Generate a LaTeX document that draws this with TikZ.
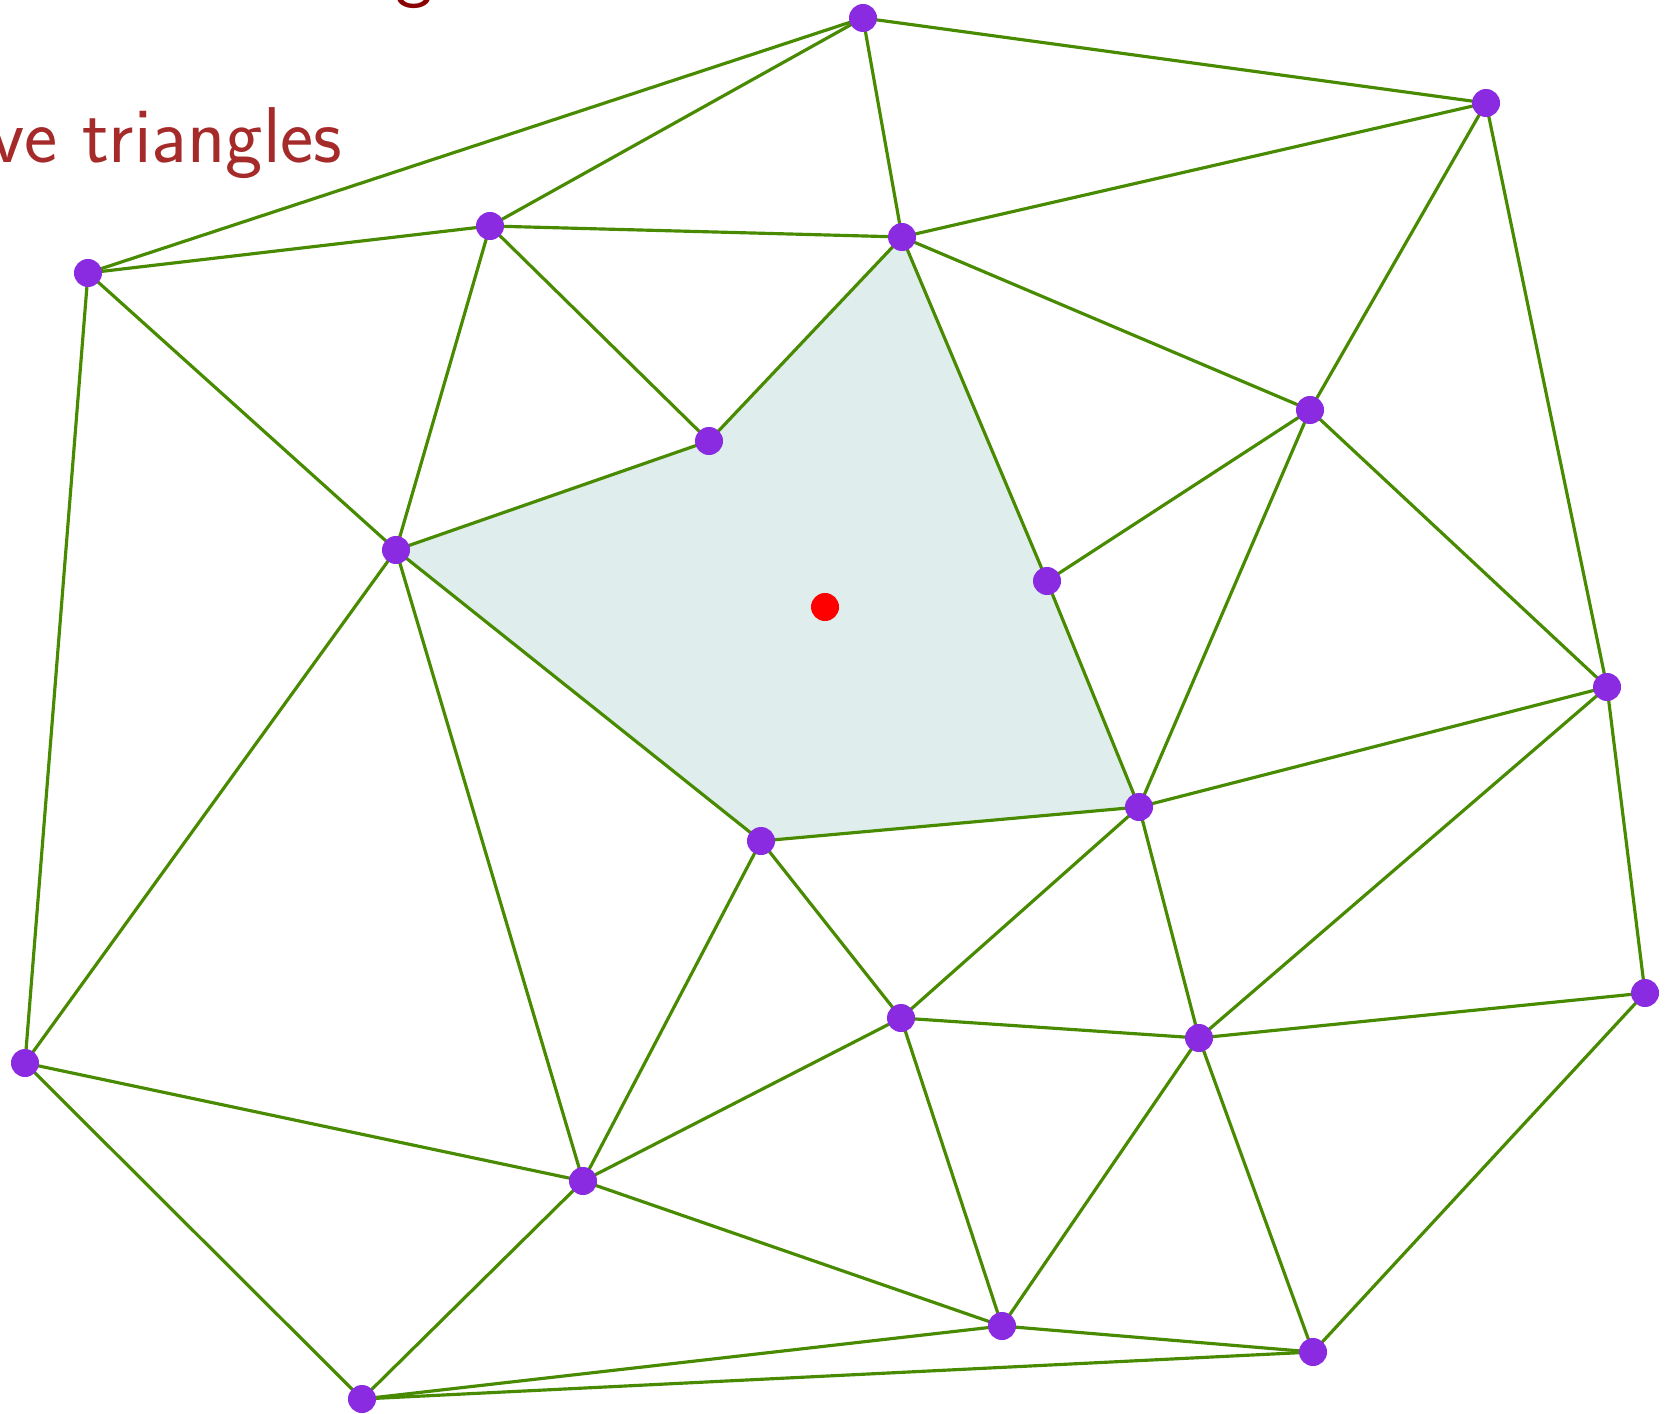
\documentclass[tikz,border=0pt]{standalone}
\usepackage{xcolor}
\definecolor{edgegreen}{RGB}{72,138,0}
\definecolor{vpurple}{RGB}{138,43,226}
\definecolor{polyfill}{RGB}{223,237,237}
\definecolor{txtred}{RGB}{165,42,42}
\definecolor{txtdark}{RGB}{139,0,0}
\begin{document}
\begin{tikzpicture}[x=0.01cm,y=-0.01cm,
  vtx/.style={circle,fill=vpurple,inner sep=0pt,minimum size=0.28cm},
  edge/.style={draw=edgegreen,line width=0.9pt},
  lbl/.style={font=\sffamily\fontsize{22.5}{27}\selectfont,inner sep=0pt}]
\useasboundingbox (0,0) rectangle (1671,1413);
\begin{scope}
\clip (0,0) rectangle (1671,1413);
\node[lbl,text=txtdark,anchor=base east] (tg) at (433,-7) {g};
\node[lbl,text=txtred,anchor=base east] (tt) at (343,163) {ve triangles};
\end{scope}
\coordinate (p1) at (863,18);
\coordinate (p2) at (1486,103);
\coordinate (p3) at (490,226);
\coordinate (p4) at (902,237);
\coordinate (p5) at (88,273);
\coordinate (p6) at (1310,410);
\coordinate (p7) at (709,441);
\coordinate (p8) at (396,550);
\coordinate (p9) at (1047,581);
\coordinate (p10) at (1607,687);
\coordinate (p11) at (1139,807);
\coordinate (p12) at (761,841);
\coordinate (p13) at (1645,993);
\coordinate (p14) at (901,1018);
\coordinate (p15) at (1199,1038);
\coordinate (p16) at (25,1063);
\coordinate (p17) at (583,1181);
\coordinate (p18) at (1002,1326);
\coordinate (p19) at (1313,1352);
\coordinate (p20) at (362,1399);
\fill[polyfill] (p8) -- (p7) -- (p4) -- (p9) -- (p11) -- (p12) -- cycle;
\foreach \a/\b in {1/2,1/3,1/5,1/4,2/4,2/6,2/10,3/5,3/4,3/7,3/8,4/7,4/9,4/6,5/8,5/16,
  6/9,6/11,6/10,7/8,8/12,8/16,8/17,9/11,10/11,10/15,10/13,11/12,11/14,11/15,
  12/14,12/17,13/15,13/19,14/15,14/17,14/18,15/18,15/19,16/17,16/20,17/20,17/18,
  18/19,18/20,19/20}
  \draw[edge] (p\a) -- (p\b);
\foreach \i in {1,...,20}
  \node[vtx] (v\i) at (p\i) {};
\node[circle,fill=red,inner sep=0pt,minimum size=0.28cm] (q) at (825,607) {};
\end{tikzpicture}
\end{document}
